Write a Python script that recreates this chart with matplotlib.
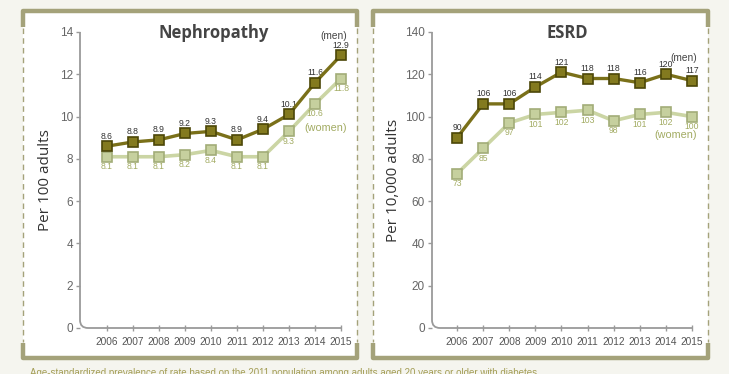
import matplotlib.pyplot as plt
from matplotlib.path import Path
from matplotlib.patches import PathPatch, FancyBboxPatch

years = list(range(2006, 2016))

neph_men = [8.6, 8.8, 8.9, 9.2, 9.3, 8.9, 9.4, 10.1, 11.6, 12.9]
neph_women = [8.1, 8.1, 8.1, 8.2, 8.4, 8.1, 8.1, 9.3, 10.6, 11.8]
neph_men_lbl = ["8.6", "8.8", "8.9", "9.2", "9.3", "8.9", "9.4", "10.1", "11.6", "12.9"]
neph_women_lbl = ["8.1", "8.1", "8.1", "8.2", "8.4", "8.1", "8.1", "9.3", "10.6", "11.8"]

esrd_men = [90, 106, 106, 114, 121, 118, 118, 116, 120, 117]
esrd_women = [73, 85, 97, 101, 102, 103, 98, 101, 102, 100]

BG = "#f5f5ef"
FRAME = "#a4a27a"
MEN_LINE = "#7a7019"
MEN_FACE = "#837a1f"
MEN_EDGE = "#4c4708"
WOM_LINE = "#cbd5a4"
WOM_FACE = "#c6d09e"
WOM_EDGE = "#a2ad78"
WOM_TEXT = "#a2ab62"
AXCOL = "#9a9a9a"
TICKTXT = "#666666"

SMALL = ["Liberation Sans", "DejaVu Sans"]

fig = plt.figure(figsize=(7.29, 3.74), dpi=100)
fig.patch.set_facecolor(BG)

# background frames in pixel coordinates
bg = fig.add_axes([0, 0, 1, 1], zorder=-1)
bg.set_xlim(0, 729)
bg.set_ylim(374, 0)
bg.axis("off")
for x0, x1 in [(23, 357), (373, 708)]:
    bg.add_patch(FancyBboxPatch((x0, 11), x1 - x0, 347, boxstyle="round,pad=0,rounding_size=5",
                                fc="white", ec="none"))
    # top thick edge with corner pieces
    bg.plot([x0, x0, x1, x1], [27, 11, 11, 27], color=FRAME, lw=3.2,
            solid_joinstyle="round", solid_capstyle="butt")
    # bottom thick edge with corner pieces
    bg.plot([x0, x0, x1, x1], [343, 358, 358, 343], color=FRAME, lw=3.2,
            solid_joinstyle="round", solid_capstyle="butt")
    for xx in (x0, x1):
        bg.plot([xx, xx], [28, 342], color=FRAME, lw=1, ls=(0, (4, 3)))

fig.text(30 / 729, 1 - 368 / 374, "Age-standardized prevalence of rate based on the 2011 population "
         "among adults aged 20 years or older with diabetes",
         color="#a39d55", fontsize=7, va="top", ha="left", family=SMALL)


def panel(rect, xlim, ymax, yticks, men, women, men_lbl, women_lbl, title, ylabel,
          men_pos, wom_pos, title_x, lpad):
    ax = fig.add_axes(rect)
    ax.set_facecolor("none")
    ax.set_xlim(*xlim)
    ax.set_ylim(0, ymax)
    for s in ax.spines.values():
        s.set_visible(False)
    # L-shaped axis with rounded corner
    rx, ry = 8 / (rect[2] * 729), 8 / (rect[3] * 374)
    verts = [(0, 1), (0, ry), (0, 0), (rx, 0), (1, 0)]
    codes = [Path.MOVETO, Path.LINETO, Path.CURVE3, Path.CURVE3, Path.LINETO]
    ax.add_patch(PathPatch(Path(verts, codes), transform=ax.transAxes, fc="none",
                           ec=AXCOL, lw=1.3, clip_on=False))
    ax.set_yticks(yticks)
    ax.set_xticks(years)
    ax.tick_params(axis="y", direction="out", length=3, width=1, color=AXCOL,
                   labelcolor=TICKTXT, labelsize=8.5, pad=2)
    ax.tick_params(axis="x", direction="inout", length=5, width=1, color=AXCOL,
                   labelcolor="#555555", labelsize=7.3, pad=4)
    for lab in ax.get_xticklabels() + ax.get_yticklabels():
        lab.set_family(SMALL)
    ax.set_ylabel(ylabel, fontsize=11, color="#333333", family="Open Sans", labelpad=lpad)

    ax.plot(years, women, color=WOM_LINE, lw=2.6, marker="s", ms=6.5, mfc=WOM_FACE,
            mec=WOM_EDGE, mew=1.2, clip_on=False, zorder=3)
    ax.plot(years, men, color=MEN_LINE, lw=2.4, marker="s", ms=6.5, mfc=MEN_FACE,
            mec=MEN_EDGE, mew=1.2, clip_on=False, zorder=4)
    for x, y, t in zip(years, men, men_lbl):
        ax.annotate(t, (x, y), xytext=(0, 4), textcoords="offset points", ha="center",
                    va="bottom", fontsize=6.2, color="#333333", family=SMALL)
    for x, y, t in zip(years, women, women_lbl):
        ax.annotate(t, (x, y), xytext=(0, -4), textcoords="offset points", ha="center",
                    va="top", fontsize=6.2, color=WOM_TEXT, family=SMALL)
    ax.text(men_pos[0], men_pos[1], "(men)", ha="right", va="center", fontsize=7.3,
            color="#444444", family=SMALL)
    ax.text(wom_pos[0], wom_pos[1], "(women)", ha="right", va="center", fontsize=7.8,
            color=WOM_TEXT, family=SMALL)
    fig.text(title_x / 729, 1 - 33 / 374, title, ha="center", va="center", fontsize=12,
             fontweight="bold", color="#444444", family="Open Sans")
    return ax


bottom = (374 - 328) / 374
height = 296 / 374
panel([80 / 729, bottom, 261 / 729, height], (2004.96, 2015), 14, [0, 2, 4, 6, 8, 10, 12, 14],
      neph_men, neph_women, neph_men_lbl, neph_women_lbl, "Nephropathy", "Per 100 adults",
      (2015.23, 13.8), (2015.23, 9.45), 214, 5)
panel([432 / 729, bottom, 260 / 729, height], (2005.04, 2015), 140,
      [0, 20, 40, 60, 80, 100, 120, 140],
      esrd_men, esrd_women, [str(v) for v in esrd_men], [str(v) for v in esrd_women],
      "ESRD", "Per 10,000 adults", (2015.2, 127.7), (2015.2, 91.3), 567, 3)

fig.savefig("out.png", dpi=100, facecolor=BG)
